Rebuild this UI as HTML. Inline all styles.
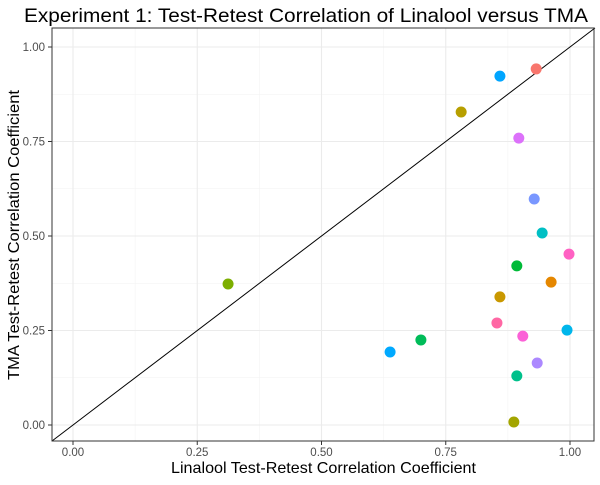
<!DOCTYPE html>
<html><head><meta charset="utf-8"><style>
body{margin:0;background:#fff;font-family:"Liberation Sans",sans-serif}
</style></head><body>
<svg id="chart" width="600" height="480">
<text x="24" y="22" font-size="19.5" fill="#000" textLength="564" lengthAdjust="spacingAndGlyphs">Experiment 1: Test-Retest Correlation of Linalool versus TMA</text>
<g id="grid"></g><g id="axes"></g><g id="marks"></g>
<text x="171" y="473" font-size="16" textLength="305" lengthAdjust="spacingAndGlyphs">Linalool Test-Retest Correlation Coefficient</text>
<text transform="translate(19,380) rotate(-90)" font-size="16" textLength="290" lengthAdjust="spacingAndGlyphs">TMA Test-Retest Correlation Coefficient</text>
</svg>
<script>
const xVals=[0.932,0.859,0.781,0.897,0.928,0.944,0.998,0.893,0.962,0.859,0.853,0.905,0.994,0.312,0.638,0.700,0.934,0.893,0.887];
const yVals=[0.942,0.923,0.828,0.759,0.598,0.508,0.452,0.421,0.378,0.339,0.270,0.235,0.251,0.373,0.193,0.225,0.164,0.130,0.008];
const colors=["#F8766D","#00A5FF","#B79F00","#DC71FA","#7997FF","#00BFC4","#FF61C3","#00BA38","#E58700","#C99800","#FF67A4","#FB61D7","#00B6EB","#7CAE00","#00A9FF","#00BC59","#AC88FF","#00C08B","#A3A500"];
const ticks=[0,0.25,0.5,0.75,1];
const tickLabels=["0.00","0.25","0.50","0.75","1.00"];
const NS="http://www.w3.org/2000/svg";
const L=52,R=594,T=28,B=441;
const sx=v=>73+v*497, sy=v=>425-v*378;
function mk(tag,attrs,parent){const e=document.createElementNS(NS,tag);for(const k in attrs)e.setAttribute(k,attrs[k]);document.getElementById(parent).appendChild(e);return e;}
mk('rect',{x:L,y:T,width:R-L,height:B-T,fill:'#fff'},'grid');
for(let i=0;i<ticks.length-1;i++){const m=(ticks[i]+ticks[i+1])/2;
 let g=mk('line',{x1:sx(m),x2:sx(m),y1:T,y2:B,stroke:'#f2f2f2','stroke-width':0.6},'grid');
 g=mk('line',{y1:sy(m),y2:sy(m),x1:L,x2:R,stroke:'#f2f2f2','stroke-width':0.6},'grid');}
ticks.forEach((t,i)=>{
 let g=mk('line',{x1:sx(t),x2:sx(t),y1:T,y2:B,stroke:'#ebebeb','stroke-width':1.1},'grid');
 g=mk('line',{y1:sy(t),y2:sy(t),x1:L,x2:R,stroke:'#ebebeb','stroke-width':1.1},'grid');
 mk('line',{x1:sx(t),x2:sx(t),y1:B,y2:B+4,stroke:'#333'},'axes');
 mk('line',{x1:L-4,x2:L,y1:sy(t),y2:sy(t),stroke:'#333'},'axes');
 let tx=mk('text',{x:sx(t),y:B+15,'font-size':11.5,fill:'#4d4d4d','text-anchor':'middle'},'axes');tx.textContent=tickLabels[i];
 
 tx=mk('text',{x:L-7,y:sy(t)+4,'font-size':11.5,fill:'#4d4d4d','text-anchor':'end'},'axes');tx.textContent=tickLabels[i];
 
});
const lo=(L-73)/497, hi=(425-T)/378;
let d=mk('line',{x1:sx(lo),y1:sy(lo),x2:sx(hi),y2:sy(hi),stroke:'#000','stroke-width':1},'marks');

xVals.forEach((x,i)=>{const c=mk('circle',{cx:sx(x),cy:sy(yVals[i]),r:5.5,fill:colors[i]},'marks');
 });
const b=mk('rect',{x:L,y:T,width:R-L,height:B-T,fill:'none',stroke:'#333','stroke-width':1},'marks');

</script>
</body></html>
